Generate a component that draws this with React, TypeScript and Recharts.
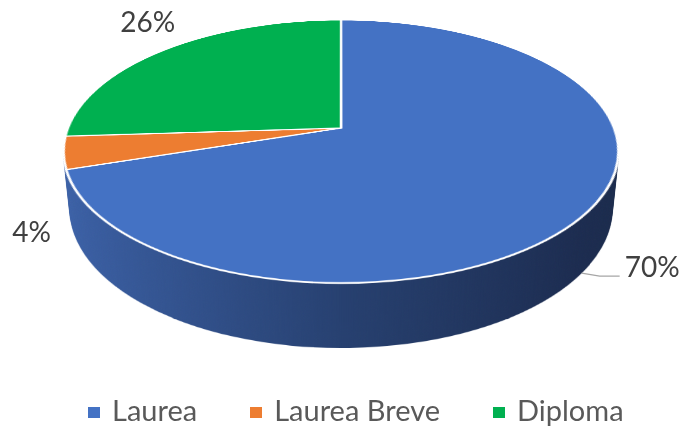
import { Cell, Legend, Pie, PieChart } from "recharts";

const categories = ["Laurea", "Laurea Breve", "Diploma"];
const shares = [70, 4, 26];
const topColors = ["#4472C4", "#ED7D31", "#00B050"];

const data = categories.map((name, i) => ({ name, value: shares[i] }));

// tilted disc geometry (screen px)
const CX = 341;
const CY = 128;
const R = 273;
const TILT = 62.2;
const PERSP = 1351;
const DEPTH = 66;
const BOX = R * 2 + 10;

const FONT = "Lato, 'Open Sans', sans-serif";

// where each label sits relative to its rim anchor
const labelNudge = [
  { dx: 43, dy: 4, anchor: "start", line: true },
  { dx: -19, dy: 31, anchor: "end", line: false },
  { dx: -16, dy: -18, anchor: "middle", line: false },
];

function project(phi: number, r: number, z: number) {
  const p = (phi * Math.PI) / 180;
  const a = (TILT * Math.PI) / 180;
  const x = r * Math.sin(p);
  const y = -r * Math.cos(p);
  const yr = y * Math.cos(a) - z * Math.sin(a);
  const zr = y * Math.sin(a) + z * Math.cos(a);
  const f = PERSP / (PERSP - zr);
  return { x: CX + x * f, y: CY + yr * f };
}

function Disc({ z, top }: { z: number; top: boolean }) {
  return (
    <div
      style={{
        position: "absolute",
        left: CX - BOX / 2,
        top: CY - BOX / 2,
        width: BOX,
        height: BOX,
        transform: `perspective(${PERSP}px) rotateX(${TILT}deg) translateZ(${z}px)`,
      }}
    >
      <PieChart width={BOX} height={BOX} margin={{ top: 0, right: 0, bottom: 0, left: 0 }}>
        <Pie
          data={data}
          dataKey="value"
          nameKey="name"
          cx="50%"
          cy="50%"
          outerRadius={R}
          startAngle={90}
          endAngle={-270}
          stroke={top ? "#ffffff" : "none"}
          strokeWidth={top ? 2.5 : 0}
          isAnimationActive={false}
        >
          {data.map((d, i) => (
            <Cell key={d.name} fill={top ? topColors[i] : "url(#sideShade)"} />
          ))}
        </Pie>
      </PieChart>
    </div>
  );
}

function renderLabel(props: any) {
  const { midAngle, percent, index } = props;
  const phi = 90 - midAngle;
  const front = Math.cos((phi * Math.PI) / 180) < 0;
  const a = project(phi, R, front ? -DEPTH : 0);
  const n = labelNudge[index];
  return (
    <g key={`lbl-${index}`}>
      {n.line && (
        <polyline
          points={`${a.x},${a.y} ${a.x + 18},${a.y + 3} ${a.x + 38},${a.y + 3}`}
          fill="none"
          stroke="#a6a6a6"
          strokeWidth={1.3}
        />
      )}
      <text
        x={a.x + n.dx}
        y={a.y + n.dy}
        textAnchor={n.anchor as any}
        fill="#404040"
        fontSize={28}
        fontFamily={FONT}
      >
        {`${Math.round(percent * 100)}%`}
      </text>
    </g>
  );
}

function renderLegend(props: any) {
  const items = [...(props.payload || [])].sort(
    (p: any, q: any) => categories.indexOf(p.value) - categories.indexOf(q.value)
  );
  return (
    <div
      style={{
        display: "flex",
        alignItems: "center",
        paddingLeft: 88,
        gap: 53,
        fontFamily: FONT,
        fontSize: 29,
        lineHeight: "29px",
        color: "#595959",
      }}
    >
      {items.map((entry: any) => (
        <div key={entry.value} style={{ display: "flex", alignItems: "center" }}>
          <span
            style={{
              display: "inline-block",
              width: 12,
              height: 11,
              marginRight: 12,
              background: topColors[categories.indexOf(entry.value)],
              transform: "translateY(3px)",
            }}
          />
          <span>{entry.value}</span>
        </div>
      ))}
    </div>
  );
}

export default function App() {
  const layers: number[] = [];
  for (let z = -DEPTH; z < 0; z += 1) layers.push(z);

  return (
    <div
      style={{
        position: "absolute",
        left: 0,
        top: 0,
        width: 683,
        height: 429,
        overflow: "hidden",
        background: "#ffffff",
      }}
    >
      <svg width={0} height={0} style={{ position: "absolute" }}>
        <defs>
          <linearGradient id="sideShade" gradientUnits="userSpaceOnUse" x1={0} y1={0} x2={BOX} y2={0}>
            <stop offset="0%" stopColor="#3d63aa" />
            <stop offset="16%" stopColor="#365898" />
            <stop offset="52%" stopColor="#263f6e" />
            <stop offset="88%" stopColor="#1c2c50" />
            <stop offset="100%" stopColor="#1a2a4b" />
          </linearGradient>
        </defs>
      </svg>
      {layers.map((z) => (
        <Disc key={z} z={z} top={false} />
      ))}
      <Disc z={0} top />
      <div style={{ position: "absolute", left: 0, top: 0 }}>
        <PieChart width={683} height={429} margin={{ top: 0, right: 0, bottom: 0, left: 0 }}>
          <Pie
            data={data}
            dataKey="value"
            nameKey="name"
            cx={CX}
            cy={CY}
            outerRadius={R}
            startAngle={90}
            endAngle={-270}
            stroke="none"
            label={renderLabel}
            labelLine={false}
            isAnimationActive={false}
          >
            {data.map((d, i) => (
              <Cell key={d.name} fill={topColors[i]} fillOpacity={0} />
            ))}
          </Pie>
          <Legend
            content={renderLegend}
            verticalAlign="bottom"
            wrapperStyle={{ top: 395, left: 0, width: 683 }}
          />
        </PieChart>
      </div>
    </div>
  );
}
